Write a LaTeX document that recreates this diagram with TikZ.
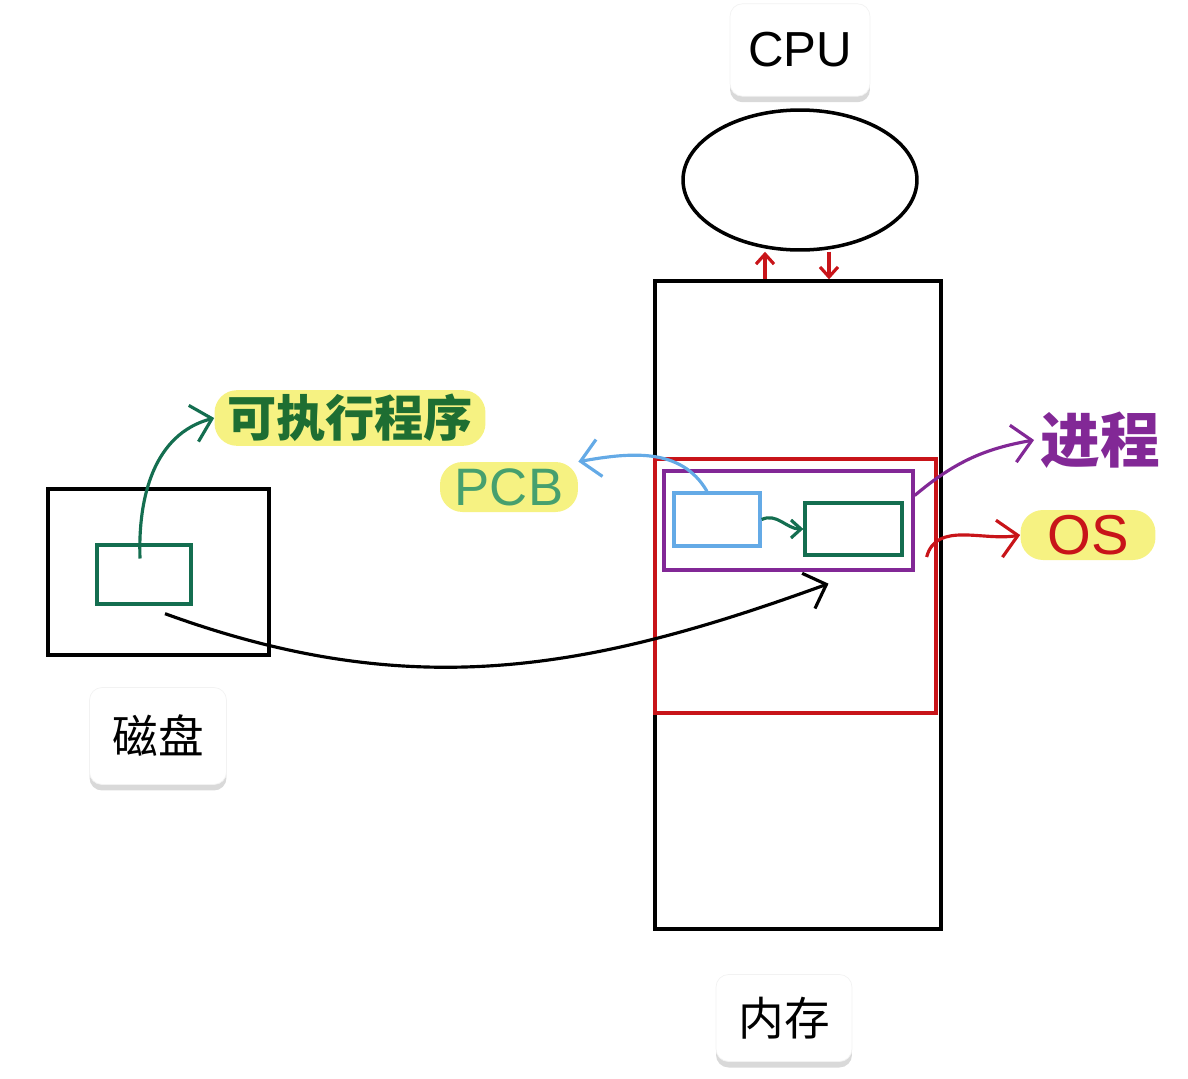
\documentclass[tikz,border=0pt]{standalone}
\usepackage{fontspec}
\setmainfont{Liberation Sans}
\newfontfamily\cjk{Noto Sans CJK SC}
\usepackage{tikz}
\usetikzlibrary{shapes.geometric, arrows.meta, positioning, shadows}
\definecolor{osred}{RGB}{200, 20, 25}
\definecolor{procpurple}{RGB}{130, 40, 150}
\definecolor{pcbblue}{RGB}{100, 170, 230}
\definecolor{codegreen}{RGB}{20, 110, 80}
\definecolor{progtext}{RGB}{30, 110, 50}
\definecolor{pcbtext}{RGB}{70, 160, 110}
\definecolor{hlyellow}{RGB}{246, 242, 130}
\tikzset{
    frame/.style={rectangle, draw=black, line width=2pt},
    tag/.style={rectangle, rounded corners=0.25cm, fill=white, draw=black!5, minimum width=2.8cm, minimum height=1.85cm, drop shadow={opacity=0.3, shadow xshift=0pt, shadow yshift=-0.12cm}},
    hand/.style={font=\cjk\bfseries\fontsize{28}{30}\selectfont},
    marker/.style={rectangle, rounded corners=0.45cm, fill=hlyellow, inner xsep=0.25cm, inner ysep=0.08cm},
    chevron/.style={-{Straight Barb[length=0.38cm, width=0.75cm]}, line width=1.8pt},
    smallchevron/.style={-{Straight Barb[length=0.2cm, width=0.36cm]}, line width=1.8pt}
}
\begin{document}
\begin{tikzpicture}[x=0.02cm, y=-0.02cm]
    \useasboundingbox (0,0) rectangle (1188,1079);

    % CPU
    \node (cpulbl) [tag, font=\fontsize{28}{30}\selectfont] at (800,50) {CPU};
    \node (cpu) [ellipse, draw=black, line width=2pt, minimum width=4.68cm, minimum height=2.8cm] at (800,180) {};

    % Memory
    \node (mem) [frame, minimum width=5.72cm, minimum height=12.96cm] at (798,605) {};
    \node (memlbl) [tag, font=\cjk\fontsize{26}{28}\selectfont, minimum width=2.72cm, minimum height=1.74cm] at (784,1018) {内存};

    \node (os) [rectangle, draw=osred, line width=1.9pt, minimum width=5.62cm, minimum height=5.08cm] at (795.5,586) {};
    \node (proc) [rectangle, draw=procpurple, line width=1.9pt, minimum width=4.98cm, minimum height=1.98cm] at (788.5,520.5) {};
    \node (pcb) [rectangle, draw=pcbblue, line width=1.9pt, minimum width=1.72cm, minimum height=1.06cm] at (717,519.5) {};
    \node (code) [rectangle, draw=codegreen, line width=1.9pt, minimum width=1.94cm, minimum height=1.04cm] at (853.5,529) {};

    % Disk
    \node (disk) [frame, minimum width=4.42cm, minimum height=3.32cm] at (158.5,572) {};
    \node (file) [rectangle, draw=codegreen, line width=1.9pt, minimum width=1.88cm, minimum height=1.18cm] at (144,574.5) {};
    \node (disklbl) [tag, font=\cjk\fontsize{26}{28}\selectfont, minimum width=2.74cm, minimum height=1.94cm] at (158,736) {磁盘};

    % Hand labels
    \node (progtxt) [hand, marker, text=progtext, minimum width=5.1cm] at (350,418) {可执行程序};
    \node (pcbtxt) [marker, text=pcbtext, font=\fontsize{30}{32}\selectfont, minimum width=2.76cm, minimum height=1.0cm] at (509,487) {PCB};
    \node (proctxt) [hand, text=procpurple, font=\cjk\bfseries\fontsize{34}{36}\selectfont] at (1100,440) {进程};
    \node (ostxt) [marker, text=osred, font=\fontsize{32}{34}\selectfont, minimum width=2.7cm, minimum height=1.0cm] at (1088,535) {OS};

    % Connectors
    \draw [chevron, draw=codegreen] ([shift={(-4,-16)}]file.center) to[out=92, in=195] (progtxt.west);
    \draw [chevron, draw=pcbblue] ([xshift=-0.2cm]pcb.north) to[out=120, in=10] (pcbtxt.north east);
    \draw [smallchevron, draw=codegreen] (pcb.east) to[out=25, in=180] (code.west);
    \draw [chevron, draw=procpurple] ([yshift=0.5cm]proc.east) to[out=40, in=190] (proctxt.west);
    \draw [chevron, draw=osred] ([shift={(-11,-29)}]os.east) to[out=75, in=190] (ostxt.west);
    \draw [chevron, draw=black] ([shift={(21,8)}]file.south) to[out=-20, in=200] ([shift={(40,12)}]proc.south);

    % CPU <-> memory
    \draw [smallchevron, draw=osred] ([xshift=-0.66cm]mem.north) -- ([xshift=-0.66cm]mem.north |- cpu.south);
    \draw [smallchevron, draw=osred] ([xshift=0.62cm]mem.north |- cpu.south) -- ([xshift=0.62cm]mem.north);
\end{tikzpicture}
\end{document}
